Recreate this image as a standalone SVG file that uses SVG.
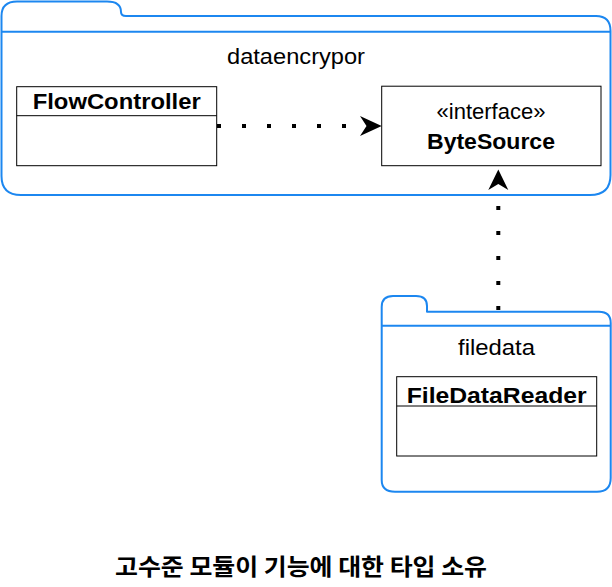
<svg xmlns="http://www.w3.org/2000/svg" width="612" height="587" viewBox="0 0 612 587">
<style>
.pkg{fill:#fff;stroke:#1C87F0;stroke-width:2;stroke-linejoin:round}
.hdr{fill:none;stroke:#1C87F0;stroke-width:2}
.box{fill:#fff;stroke:#000;stroke-width:1}
.t{font-family:"Liberation Sans",Arial,sans-serif;font-size:22px;fill:#000;text-anchor:middle}
.b{font-weight:bold}
.dot{fill:none;stroke:#000;stroke-width:4;stroke-dasharray:4 21}
.ah{fill:#000;stroke:none}
.k{font-family:"Noto Sans CJK KR",sans-serif;font-size:23px;font-weight:bold;fill:#000;text-anchor:middle}
</style>
<rect width="612" height="587" fill="#fff"/>
<g id="pkg-dataencrypor">
<path class="pkg" d="M1.5,176 L1.5,16 Q1.5,1.5 17,1.5 L107,1.5 Q121,1.5 121,12 Q121,16 126,16 L596,16 Q610.5,16 610.5,31 L610.5,175 Q610.5,195 590,195 L21,195 Q1.5,195 1.5,176 Z"/>
<line class="hdr" x1="1.5" y1="31.7" x2="610.5" y2="31.7"/>
<text class="t" x="296" y="64" textLength="138" lengthAdjust="spacingAndGlyphs">dataencrypor</text>
</g>
<g id="pkg-filedata">
<path class="pkg" d="M381.7,480 L381.7,307 Q381.7,296 393,296 L416,296 Q427,296 427,306 L427,311.7 L599,311.7 Q610.7,311.7 610.7,323 L610.7,478 Q610.7,491.7 597,491.7 L395,491.7 Q381.7,491.7 381.7,480 Z"/>
<line class="hdr" x1="381.7" y1="325.7" x2="610.7" y2="325.7"/>
<text class="t" x="496.5" y="355" textLength="77" lengthAdjust="spacingAndGlyphs">filedata</text>
</g>
<g id="node-flowcontroller">
<rect class="box" x="16.7" y="86.7" width="200" height="79"/>
<line class="box" x1="16.7" y1="115.7" x2="216.7" y2="115.7"/>
<text class="t b" x="116.7" y="109" textLength="168" lengthAdjust="spacingAndGlyphs">FlowController</text>
</g>
<g id="node-bytesource">
<rect class="box" x="381.7" y="86.2" width="219.3" height="79.5"/>
<text class="t" x="491" y="119" textLength="109" lengthAdjust="spacingAndGlyphs">«interface»</text>
<text class="t b" x="491" y="149" textLength="128" lengthAdjust="spacingAndGlyphs">ByteSource</text>
</g>
<g id="node-filedatareader">
<rect class="box" x="396.7" y="376.7" width="200" height="79.3"/>
<line class="box" x1="396.7" y1="406" x2="596.7" y2="406"/>
<text class="t b" x="496.7" y="403" textLength="180" lengthAdjust="spacingAndGlyphs">FileDataReader</text>
</g>
<g id="connectors">
<line class="dot" x1="217" y1="126" x2="366" y2="126"/>
<path class="ah" d="M381.7,126 L360,116 L366.5,126 L360,136 Z"/>
<line class="dot" x1="498.3" y1="310" x2="498.3" y2="185"/>
<path class="ah" d="M498.3,169.5 L488.3,190 L498.3,184 L508.3,190 Z"/>
</g>
<text class="k" x="301" y="575" textLength="372" lengthAdjust="spacingAndGlyphs">고수준 모듈이 기능에 대한 타입 소유</text>
</svg>
